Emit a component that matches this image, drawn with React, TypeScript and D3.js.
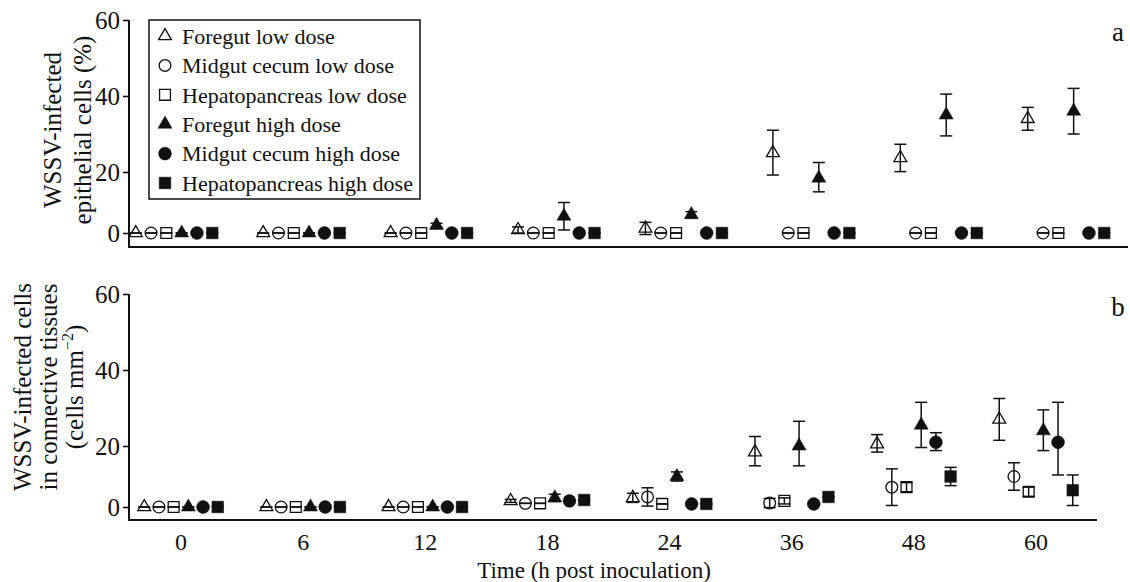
import React, { useEffect, useRef } from 'react';
import * as d3 from 'd3';

// categories (h post inoculation)
const times = ['0', '6', '12', '18', '24', '36', '48', '60'];

const seriesNames = [
  'Foregut low dose',
  'Midgut cecum low dose',
  'Hepatopancreas low dose',
  'Foregut high dose',
  'Midgut cecum high dose',
  'Hepatopancreas high dose',
];
const seriesShapes = ['triangle', 'circle', 'square', 'triangle', 'circle', 'square'];
const seriesFilled = [false, false, false, true, true, true];

const yTicks = [0, 20, 40, 60];

// panel a: WSSV-infected epithelial cells (%)
const epiForegutLow = [0, 0, 0, 1, 1.5, 25, 23.7, 34];
const epiForegutLowErr = [0, 0, 0, 1, 2, 6, 3.6, 3];
const epiMidgutLow = [0, 0, 0, 0, 0, 0, 0, 0];
const epiMidgutLowErr = [0, 0, 0, 0, 0, 0, 0, 0];
const epiHepatoLow = [0, 0, 0, 0, 0, 0, 0, 0];
const epiHepatoLowErr = [0, 0, 0, 0, 0, 0, 0, 0];
const epiForegutHigh = [0, 0, 2.5, 5.5, 6, 18, 35, 36];
const epiForegutHighErr = [0, 0, 0.7, 4.5, 1, 4.5, 5.5, 6];
const epiMidgutHigh = [0, 0, 0, 0, 0, 0, 0, 0];
const epiMidgutHighErr = [0, 0, 0, 0, 0, 0, 0, 0];
const epiHepatoHigh = [0, 0, 0, 0, 0, 0, 0, 0];
const epiHepatoHighErr = [0, 0, 0, 0, 0, 0, 0, 0];

// panel b: WSSV-infected cells in connective tissues (cells mm-2)
const conForegutLow = [0, 0, 0, 2, 3, 18, 20.5, 27];
const conForegutLowErr = [0, 0, 0, 0.5, 1.5, 4.5, 2.5, 5.5];
const conMidgutLow = [0, 0, 0, 1.2, 3.3, 1.3, 6.5, 10];
const conMidgutLowErr = [0, 0, 0, 0, 3, 1.5, 6, 4.5];
const conHepatoLow = [0, 0, 0, 1.2, 1, 2, 6.5, 5];
const conHepatoLowErr = [0, 0, 0, 0, 0, 1, 1.5, 1.5];
const conForegutHigh = [0, 0, 0, 3, 10, 20, 25.5, 24];
const conForegutHighErr = [0, 0, 0, 1.2, 1.5, 6.5, 6, 5.5];
const conMidgutHigh = [0, 0, 0, 2, 1, 1, 21, 21];
const conMidgutHighErr = [0, 0, 0, 0, 0, 0, 2.5, 10.5];
const conHepatoHigh = [0, 0, 0, 2.3, 1, 3.3, 10, 5.5];
const conHepatoHighErr = [0, 0, 0, 0, 0, 0, 3, 5];

const FONT = 'Liberation Serif, Times New Roman, serif';

const App: React.FC = () => {
  const svgRef = useRef<SVGSVGElement>(null);

  useEffect(() => {
    const width = 1130;
    const height = 582;
    const axisX = 129;

    const svg = d3.select(svgRef.current)
      .attr('width', width)
      .attr('height', height)
      .attr('font-family', FONT);
    svg.selectAll('*').remove();

    const panels = [
      {
        label: 'a',
        means: [epiForegutLow, epiMidgutLow, epiHepatoLow, epiForegutHigh, epiMidgutHigh, epiHepatoHigh],
        errs: [epiForegutLowErr, epiMidgutLowErr, epiHepatoLowErr, epiForegutHighErr, epiMidgutHighErr, epiHepatoHighErr],
        y0: 233, y20: 172, y60: 20, base: 247, xEnd: 1128,
        groupRange: [174, 1066], step: 15.3,
        showX: false,
      },
      {
        label: 'b',
        means: [conForegutLow, conMidgutLow, conHepatoLow, conForegutHigh, conMidgutHigh, conHepatoHigh],
        errs: [conForegutLowErr, conMidgutLowErr, conHepatoLowErr, conForegutHighErr, conMidgutHighErr, conHepatoHighErr],
        y0: 507, y20: 446, y60: 294, base: 520, xEnd: 1097,
        groupRange: [181, 1036], step: 14.7,
        showX: true,
      },
    ];

    const symbolType = (s: string) =>
      s === 'triangle' ? d3.symbolTriangle : s === 'circle' ? d3.symbolCircle : d3.symbolSquare;
    const symbolSize = (s: string, filled: boolean) =>
      s === 'triangle' ? (filled ? 85 : 72) : s === 'circle' ? (filled ? 130 : 108) : (filled ? 135 : 118);

    const drawMarker = (g: any, x: number, y: number, k: number) => {
      const shape = seriesShapes[k];
      const filled = seriesFilled[k];
      g.append('path')
        .attr('d', d3.symbol().type(symbolType(shape)).size(symbolSize(shape, filled))())
        .attr('transform', `translate(${x},${y})`)
        .attr('fill', filled ? '#111' : 'none')
        .attr('stroke', '#111')
        .attr('stroke-width', filled ? 0.5 : 1.3);
    };

    panels.forEach(p => {
      // zero is lifted off the axis line, so the scale is piecewise
      const y = d3.scaleLinear().domain([0, 20, 60]).range([p.y0, p.y20, p.y60]);
      const xGroup = d3.scalePoint<string>().domain(times).range(p.groupRange as [number, number]);
      const xSeries = d3.scalePoint<string>().domain(seriesNames).range([-2.5 * p.step, 2.5 * p.step]);

      const g = svg.append('g');

      // axis lines
      g.append('line')
        .attr('x1', axisX).attr('x2', axisX)
        .attr('y1', y(60)).attr('y2', p.base + 1)
        .attr('stroke', '#111').attr('stroke-width', 2);
      g.append('line')
        .attr('x1', axisX - 1).attr('x2', p.xEnd)
        .attr('y1', p.base).attr('y2', p.base)
        .attr('stroke', '#111').attr('stroke-width', 2.2);

      const yAxis = g.append('g')
        .attr('transform', `translate(${axisX},0)`)
        .call(d3.axisLeft(y).tickValues(yTicks).tickSize(6).tickPadding(3).tickFormat(d3.format('d')) as any)
        .attr('font-family', FONT);
      yAxis.select('.domain').remove();
      yAxis.selectAll('line').attr('stroke', '#111').attr('stroke-width', 1.6);
      yAxis.selectAll('text')
        .attr('font-family', FONT)
        .attr('font-size', 25)
        .attr('fill', '#111');

      if (p.showX) {
        g.selectAll('.xlab')
          .data(times)
          .enter().append('text')
          .attr('x', d => xGroup(d) as number)
          .attr('y', p.base + 30)
          .attr('text-anchor', 'middle')
          .attr('font-family', FONT)
          .attr('font-size', 24)
          .attr('fill', '#111')
          .text(d => d);
      }

      // error bars and markers
      seriesNames.forEach((name, k) => {
        times.forEach((t, i) => {
          const cx = (xGroup(t) as number) + (xSeries(name) as number);
          const m = p.means[k][i];
          const e = p.errs[k][i];
          const yt = y(m + e);
          const yb = y(Math.max(m - e, -4));
          const cap = 6;
          g.append('line')
            .attr('x1', cx).attr('x2', cx).attr('y1', yt).attr('y2', yb)
            .attr('stroke', '#111').attr('stroke-width', 1.5);
          [yt, yb].forEach(yy => {
            g.append('line')
              .attr('x1', cx - cap).attr('x2', cx + cap).attr('y1', yy).attr('y2', yy)
              .attr('stroke', '#111').attr('stroke-width', 1.5);
          });
          drawMarker(g, cx, y(m), k);
        });
      });

      g.append('text')
        .attr('x', 1118)
        .attr('y', p.label === 'a' ? 41 : 316)
        .attr('text-anchor', 'middle')
        .attr('font-family', FONT)
        .attr('font-size', 27)
        .attr('fill', '#111')
        .text(p.label);
    });

    // legend
    const legend = svg.append('g');
    legend.append('rect')
      .attr('x', 149).attr('y', 20)
      .attr('width', 271).attr('height', 179)
      .attr('fill', '#fff')
      .attr('stroke', '#111')
      .attr('stroke-width', 1.5);
    seriesNames.forEach((name, k) => {
      const ly = 36 + k * 29.4;
      drawMarker(legend, 165, ly, k);
      legend.append('text')
        .attr('x', 182)
        .attr('y', ly)
        .attr('dy', '0.35em')
        .attr('font-family', FONT)
        .attr('font-size', 22)
        .attr('fill', '#111')
        .text(name);
    });

    // y-axis titles
    const yTitleA = ['WSSV-infected', 'epithelial cells (%)'];
    yTitleA.forEach((line, i) => {
      svg.append('text')
        .attr('transform', `translate(${61 + i * 30},130) rotate(-90)`)
        .attr('text-anchor', 'middle')
        .attr('font-family', FONT)
        .attr('font-size', 25)
        .attr('fill', '#111')
        .text(line);
    });
    const yTitleB = ['WSSV-infected cells', 'in connective tissues'];
    yTitleB.forEach((line, i) => {
      svg.append('text')
        .attr('transform', `translate(${31 + i * 26},387) rotate(-90)`)
        .attr('text-anchor', 'middle')
        .attr('font-family', FONT)
        .attr('font-size', 25)
        .attr('fill', '#111')
        .text(line);
    });
    const unit = svg.append('text')
      .attr('transform', `translate(${83},387) rotate(-90)`)
      .attr('text-anchor', 'middle')
      .attr('font-family', FONT)
      .attr('font-size', 25)
      .attr('fill', '#111');
    unit.append('tspan').text('(cells mm');
    unit.append('tspan').attr('font-size', 16).attr('dy', -10).text('\u22122');
    unit.append('tspan').attr('dy', 10).text(')');

    // x-axis title
    svg.append('text')
      .attr('x', 594)
      .attr('y', 578)
      .attr('text-anchor', 'middle')
      .attr('font-family', FONT)
      .attr('font-size', 23)
      .attr('fill', '#111')
      .text('Time (h post inoculation)');
  }, []);

  return (
    <svg ref={svgRef} style={{ position: 'absolute', left: 0, top: 0, background: '#fff' }}></svg>
  );
};

export default App;
